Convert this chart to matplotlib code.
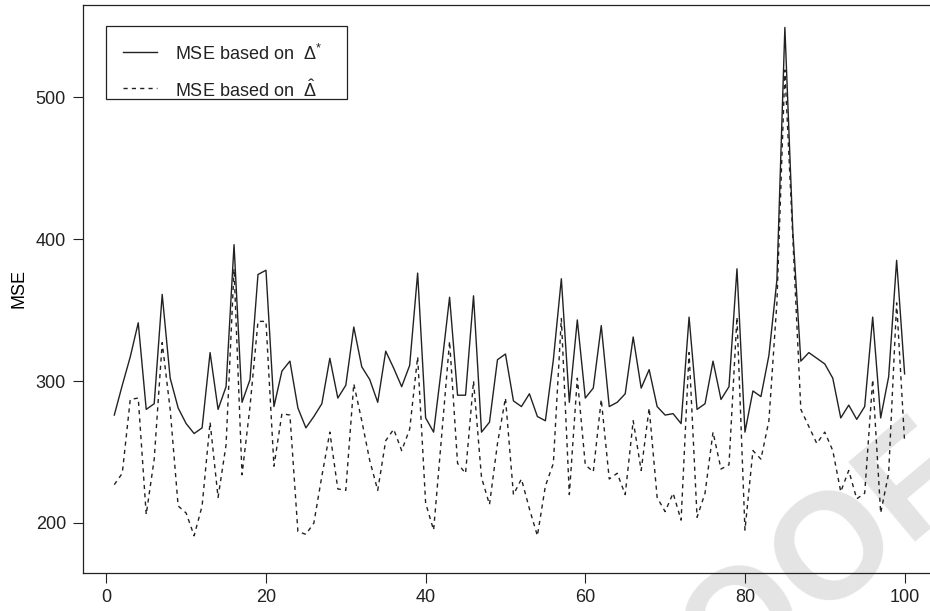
import matplotlib
matplotlib.use('Agg')
import matplotlib.pyplot as plt
from matplotlib.patches import Rectangle
from matplotlib.lines import Line2D
import numpy as np

plt.rcParams['font.family'] = ['Liberation Sans', 'DejaVu Sans']
plt.rcParams['mathtext.fontset'] = 'custom'
plt.rcParams['mathtext.rm'] = 'Liberation Sans'
plt.rcParams['mathtext.it'] = 'Liberation Sans'

# MSE per replication
mse_star = [276, 297, 317, 341, 280, 284, 361, 302, 281, 270,
            263, 267, 320, 280, 296, 396, 285, 301, 375, 378,
            282, 307, 314, 281, 267, 275, 284, 316, 288, 297,
            338, 310, 301, 285, 321, 309, 296, 311, 376, 274,
            264, 310, 359, 290, 290, 360, 264, 271, 315, 319,
            286, 282, 291, 275, 272, 315, 372, 285, 343, 288,
            295, 339, 282, 285, 291, 331, 295, 308, 282, 276,
            277, 270, 345, 280, 284, 314, 287, 296, 379, 264,
            293, 289, 318, 371, 549, 405, 314, 320, 316, 312,
            302, 274, 283, 273, 282, 345, 274, 303, 385, 305]
mse_hat = [227, 235, 287, 288, 206, 245, 327, 280, 212, 207,
           191, 212, 271, 218, 255, 379, 234, 282, 342, 342,
           240, 277, 276, 194, 192, 200, 233, 264, 224, 223,
           298, 272, 244, 223, 258, 266, 251, 266, 317, 214,
           195, 261, 328, 242, 235, 300, 232, 213, 256, 288,
           220, 231, 210, 191, 226, 242, 344, 220, 302, 241,
           236, 287, 231, 235, 220, 272, 237, 281, 218, 208,
           221, 202, 320, 204, 221, 264, 238, 241, 345, 195,
           251, 245, 272, 355, 519, 400, 280, 268, 256, 264,
           251, 222, 237, 217, 221, 301, 207, 235, 355, 257]
x = np.arange(1, len(mse_star) + 1)

x_ticks = [0, 20, 40, 60, 80, 100]
y_ticks = [200, 300, 400, 500]
labels = ['MSE based on  $\\Delta^{*}$', 'MSE based on  $\\hat{\\Delta}$']

W, H = 930, 611
fig = plt.figure(figsize=(W / 100, H / 100), dpi=100)
ax = fig.add_axes([0.0889, 0.0627, 0.9178, 0.9291])

def fx(px):
    return px / W

def fy(py):
    return 1 - py / H

dash = (0, (3, 3))
ax.plot(x, mse_star, color='#222222', linewidth=1.0)
ax.plot(x, mse_hat, color='#222222', linewidth=1.0, linestyle=dash)

ax.set_xlim(-2.96, 103.96)
ax.set_ylim(165, 564.8)
ax.set_xticks(x_ticks)
ax.set_yticks(y_ticks)
ax.tick_params(labelsize=13, length=7, width=0.8, pad=5, colors='#222222')
for s in ax.spines.values():
    s.set_linewidth(0.9)
    s.set_color('#222222')
ax.set_ylabel('MSE', fontsize=13, labelpad=6)

# legend box drawn by hand to match the R layout
fig.add_artist(Rectangle((fx(106), fy(99)), fx(347) - fx(106), fy(26) - fy(99),
                         facecolor='white', edgecolor='#222222', linewidth=0.9,
                         transform=fig.transFigure, zorder=5))
for row_y, ls, lab in [(52, '-', labels[0]), (88, dash, labels[1])]:
    fig.add_artist(Line2D([fx(123), fx(157)], [fy(row_y), fy(row_y)], color='#222222',
                          linewidth=1.0, linestyle=ls, transform=fig.transFigure, zorder=6))
    fig.text(fx(175), fy(row_y), lab, fontsize=13, color='#222222',
             ha='left', va='center_baseline', zorder=6)

# faint watermark from the source page (cut off by the page edge, as in the source)
ax.text(fx(747), fy(624), 'PROOF', transform=fig.transFigure, fontsize=108,
        fontweight='bold', color='#e4e4e4', rotation=40, ha='center', va='center',
        rotation_mode='anchor', zorder=0.5, clip_on=False)

plt.savefig('out.png', dpi=100)
plt.close()
